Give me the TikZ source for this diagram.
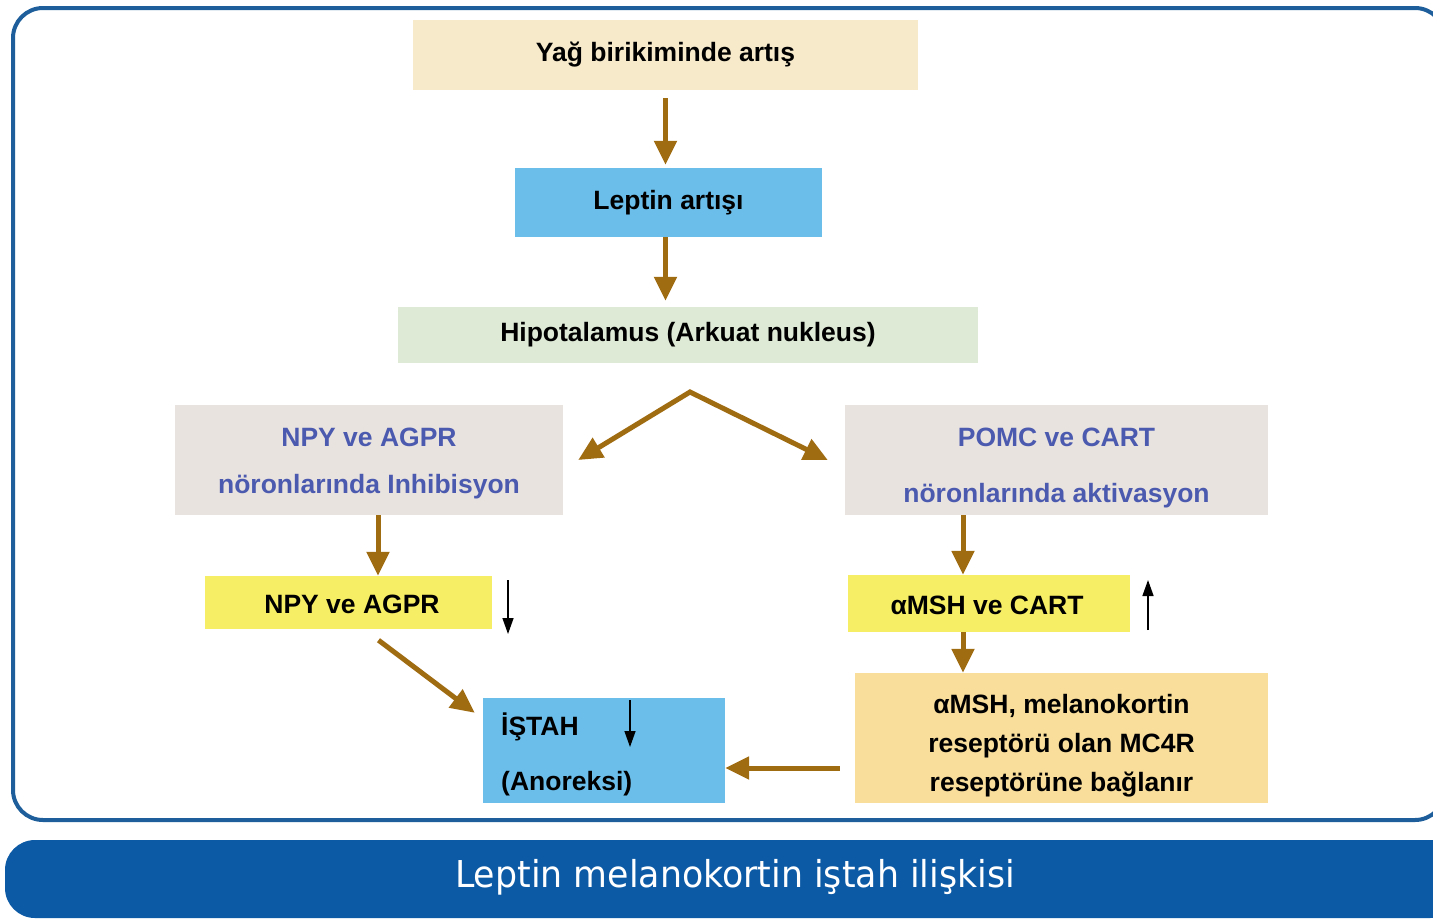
\documentclass[tikz,border=0pt]{standalone}
\usepackage{fontspec}
\setmainfont{Liberation Sans}
\newfontfamily\titlefont{DejaVu Sans}
\usetikzlibrary{arrows.meta,calc}
\definecolor{frameblue}{RGB}{30,95,155}
\definecolor{bannerblue}{RGB}{12,90,165}
\definecolor{beige}{RGB}{246,234,203}
\definecolor{lblue}{RGB}{107,190,234}
\definecolor{lgreen}{RGB}{222,234,214}
\definecolor{lgray}{RGB}{233,227,223}
\definecolor{yel}{RGB}{246,238,100}
\definecolor{peach}{RGB}{248,221,155}
\definecolor{brownarrow}{RGB}{160,108,18}
\definecolor{txtblue}{RGB}{75,90,175}
\begin{document}
\begin{tikzpicture}[x=1pt,y=-1pt,
  box/.style={inner sep=0pt, align=center, font=\fontsize{26.5}{30}\selectfont\bfseries},
  txt/.style={inner sep=0pt, align=center, font=\fontsize{26.5}{30}\selectfont\bfseries},
  flow/.style={draw=brownarrow, line width=5pt, -{Triangle[width=22pt,length=24pt]}},
  flowboth/.style={draw=brownarrow, line width=5pt, line join=miter,
    {Triangle[width=22pt,length=24pt]}-{Triangle[width=22pt,length=24pt]}},
  blackarrow/.style={draw=black, line width=1.4pt, -{Triangle[width=11pt,length=16pt]}}
]
\useasboundingbox (0,0) rectangle (1433,922);
\fill[white] (0,0) rectangle (1433,922);

% frame and banner
\draw[frameblue, line width=4pt, rounded corners=30pt] (13,8) rectangle (1445,820);
\fill[bannerblue, rounded corners=30pt] (5,840) rectangle (1460,918);
\node[text=white, inner sep=0pt] (title) at (735,877)
  {\scalebox{0.94}[1]{\titlefont\fontsize{37}{44}\selectfont Leptin melanokortin iştah ilişkisi}};

% boxes
\node[box, fill=beige, minimum width=505pt, minimum height=70pt] (yag) at (665.5,55) {Yağ birikiminde artış};
\node[box, fill=lblue, minimum width=307pt, minimum height=69pt] (leptin) at (668.5,202.5) {Leptin artışı};
\node[box, fill=lgreen, minimum width=580pt, minimum height=56pt] (hipo) at (688,335) {Hipotalamus (Arkuat nukleus)};
\node[box, fill=lgray, minimum width=388pt, minimum height=110pt, text=txtblue,
  font=\fontsize{26.5}{47}\selectfont\bfseries, text depth=0pt] (npyG) at (369,460) {};
\node[txt, text=txtblue, font=\fontsize{26.5}{47}\selectfont\bfseries] (npyT) at (369,463)
  {NPY ve AGPR\\nöronlarında Inhibisyon};
\node[box, fill=lgray, minimum width=423pt, minimum height=110pt] (pomcG) at (1056.5,460) {};
\node[txt, text=txtblue, font=\fontsize{26.5}{56}\selectfont\bfseries] (pomcT) at (1056.5,468)
  {POMC ve CART\\nöronlarında aktivasyon};
\node[box, fill=yel, minimum width=287pt, minimum height=53pt] (nyel) at (348.5,602.5) {};
\node[txt] (nyelT) at (352,604) {NPY ve AGPR};
\node[box, fill=yel, minimum width=282pt, minimum height=57pt] (ayel) at (989,603.5) {};
\node[txt] (ayelT) at (987,605) {αMSH ve CART};
\node[box, fill=lblue, minimum width=242pt, minimum height=105pt] (istah) at (604,750.5) {};
\node[txt, anchor=west] (istahT) at (501,727) {İŞTAH};
\node[txt, anchor=west] (anor) at (501,784) {(Anoreksi)};
\node[box, fill=peach, minimum width=413pt, minimum height=130pt] (mela) at (1061.5,738) {};
\node[txt, font=\fontsize{26.5}{39}\selectfont\bfseries] (melaT) at (1061.5,746)
  {αMSH, melanokortin\\reseptörü olan MC4R\\reseptörüne bağlanır};

% connectors
\draw[flow, shorten <=8pt, shorten >=3pt] (yag.south) -- (yag.south |- leptin.north);
\draw[flow, shorten >=6pt] ([xshift=-3pt]leptin.south) -- ([xshift=-3pt]leptin.south |- hipo.north);
\coordinate (apex) at (690,392);
\draw[flowboth] ([xshift=15pt]npyG.east) -- (apex) -- ([xshift=-17pt]pomcG.west);
\draw[flow] ([xshift=9pt]npyG.south) -- ([xshift=9pt]npyG.south |- nyel.north);
\draw[flow] ([xshift=-93.5pt]pomcG.south) -- ([xshift=-93.5pt]pomcG.south |- ayel.north);
\draw[flow] ([xshift=-26pt]ayel.south) -- ([xshift=-26pt]ayel.south |- mela.north);
\draw[flow] ([xshift=-15pt,yshift=-30pt]mela.west) -- ([yshift=-30pt]mela.west -| istah.east);
\draw[flow] ([xshift=30pt,yshift=-11pt]nyel.south) -- ([xshift=-8pt,yshift=-15pt]istah.north west);

% level marks
\coordinate (d1s) at (508,580); \coordinate (d1e) at (508,634);
\draw[blackarrow] (d1s) -- (d1e);
\coordinate (u1s) at (1148,630); \coordinate (u1e) at (1148,580);
\draw[blackarrow] (u1s) -- (u1e);
\coordinate (d2s) at (630,700); \coordinate (d2e) at (630,747);
\draw[blackarrow] (d2s) -- (d2e);
\end{tikzpicture}
\end{document}
